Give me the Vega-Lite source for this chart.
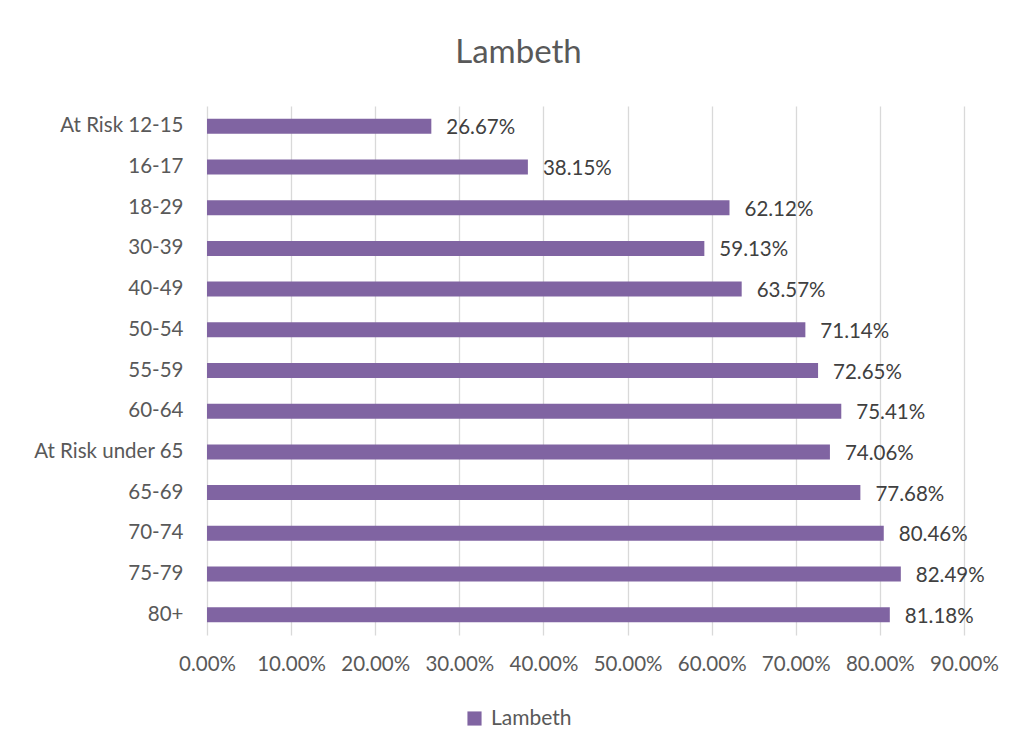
{
  "$schema": "https://vega.github.io/schema/vega-lite/v6.json",
  "autosize": "none",
  "width": 757,
  "height": 529,
  "padding": {"left": 207, "top": 106, "right": 56, "bottom": 117},
  "background": "white",
  "title": {"text": "Lambeth", "fontSize": 33, "font": "Lato", "fontWeight": "normal", "color": "#595959", "anchor": "middle", "dx": -67, "offset": 36},
  "data": {"values": [
    {"group": "At Risk 12-15", "value": 0.2667, "series": "Lambeth"},
    {"group": "16-17", "value": 0.3815, "series": "Lambeth"},
    {"group": "18-29", "value": 0.6212, "series": "Lambeth"},
    {"group": "30-39", "value": 0.5913, "series": "Lambeth"},
    {"group": "40-49", "value": 0.6357, "series": "Lambeth"},
    {"group": "50-54", "value": 0.7114, "series": "Lambeth"},
    {"group": "55-59", "value": 0.7265, "series": "Lambeth"},
    {"group": "60-64", "value": 0.7541, "series": "Lambeth"},
    {"group": "At Risk under 65", "value": 0.7406, "series": "Lambeth"},
    {"group": "65-69", "value": 0.7768, "series": "Lambeth"},
    {"group": "70-74", "value": 0.8046, "series": "Lambeth"},
    {"group": "75-79", "value": 0.8249, "series": "Lambeth"},
    {"group": "80+", "value": 0.8118, "series": "Lambeth"}
  ]},
  "encoding": {
    "y": {"field": "group", "type": "nominal", "sort": null, "title": null,
      "axis": {"domain": false, "ticks": false, "labelFont": "Lato", "labelFontSize": 20.5, "labelColor": "#595959", "labelPadding": 24}},
    "x": {"field": "value", "type": "quantitative", "title": null,
      "scale": {"domain": [0, 0.9], "nice": false},
      "axis": {"values": [0, 0.1, 0.2, 0.3, 0.4, 0.5, 0.6, 0.7, 0.8, 0.9], "format": ".2%", "domain": false, "ticks": false, "grid": true, "gridColor": "#d9d9d9", "gridWidth": 1.3, "labelFont": "Lato", "labelFontSize": 20.5, "labelColor": "#595959", "labelPadding": 19, "labelBaseline": "top", "labelOverlap": false, "labelFlush": false}}
  },
  "layer": [
    {"mark": {"type": "bar", "size": 15},
     "encoding": {"color": {"field": "series", "type": "nominal", "scale": {"range": ["#8064A2"]}, "title": null,
       "legend": {"orient": "none", "legendX": 257, "legendY": 602, "symbolType": "square", "symbolSize": 200, "symbolStrokeWidth": 0, "labelFont": "Lato", "labelFontSize": 21, "labelColor": "#595959", "labelOffset": 6}}}},
    {"mark": {"type": "text", "align": "left", "baseline": "middle", "dx": 15, "dy": 2, "font": "Lato", "fontSize": 20.5, "color": "#404040"},
     "encoding": {"text": {"field": "value", "type": "quantitative", "format": ".2%"}}}
  ],
  "config": {"view": {"stroke": null}}
}
